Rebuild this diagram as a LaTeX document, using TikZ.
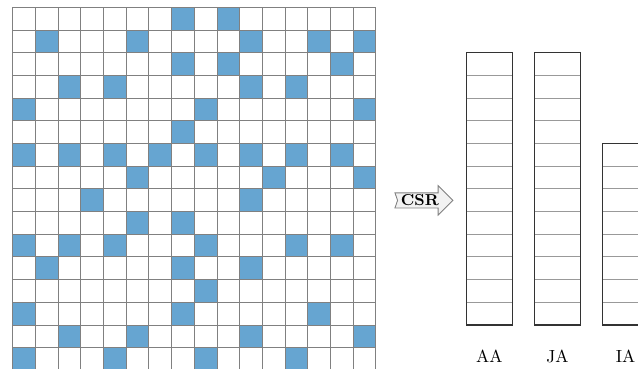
\documentclass[tikz,border=0pt]{standalone}
\usepackage{xcolor}
\usetikzlibrary{positioning, backgrounds}
\definecolor{cellblue}{RGB}{102,165,209}
\tikzstyle{cell} = [fill=cellblue]
\tikzstyle{gridline} = [draw=gray, line width=0.5pt]
\tikzstyle{storage} = [draw=black!80, line width=0.6pt, rectangle, outer sep=0pt, inner sep=0pt, minimum width=0.908cm, anchor=north west]
\tikzstyle{slot} = [draw=gray!80, line width=0.5pt]
\tikzstyle{arrlabel} = [font=\normalsize, inner sep=2pt]
\tikzstyle{csrtext} = [font=\small\bfseries, inner xsep=0pt, inner ysep=1.1pt, outer sep=0pt]
\tikzstyle{csrshape} = [draw=gray, fill=gray!10, line width=0.5pt, line join=miter]

\begin{document}
\begin{tikzpicture}[x=0.454cm, y=0.454cm]
    \clip (-0.56,0.32) rectangle (27.55,-15.93);

    % nonzero entries of the sparse matrix, row by row
    \foreach \r/\cols in {0/{7,9}, 1/{1,5,10,13,15}, 2/{7,9,14}, 3/{2,4,10,12},
                          4/{0,8,15}, 5/{7}, 6/{0,2,4,6,8,10,12,14}, 7/{5,11,15},
                          8/{3,10}, 9/{5,7}, 10/{0,2,4,8,12,14}, 11/{1,7,10},
                          12/{8}, 13/{0,7,13}, 14/{2,5,10,15}, 15/{0,4,8,12}}
        \foreach \c in \cols
            \fill[cell] (\c,-\r) rectangle ++(1,-1);
    \draw[gridline, step=0.454cm] (0,0) grid (16,-16);

    % conversion arrow
    \node (csr) [csrtext] at (17.94,-8.51) {CSR};
    \begin{pgfonlayer}{background}
        \draw[csrshape] ([xshift=-3.4pt]csr.north west) -- ([xshift=-0.4pt]csr.north east)
            -- ([xshift=-0.4pt, yshift=4.1pt]csr.north east) -- ([xshift=8pt]csr.east)
            -- ([xshift=-0.4pt, yshift=-4.1pt]csr.south east) -- ([xshift=-0.4pt]csr.south east)
            -- ([xshift=-3.4pt]csr.south west) -- ([xshift=-1.9pt]csr.west) -- cycle;
    \end{pgfonlayer}

    % storage arrays
    \node (AA) [storage, minimum height=5.448cm] at (20,-2) {};
    \node (JA) [storage, minimum height=5.448cm, right=0.454cm of AA.north east, anchor=north west] {};
    \node (IA) [storage, minimum height=3.632cm, anchor=south west] at (26,-14) {};
    \foreach \i in {1,...,11} {
        \draw[slot] (AA.north west) ++(0,-\i) -- ++(2,0);
        \draw[slot] (JA.north west) ++(0,-\i) -- ++(2,0);
    }
    \foreach \i in {1,...,7}
        \draw[slot] (IA.north west) ++(0,-\i) -- ++(2,0);

    \node (AAname) [arrlabel, below=0.43cm of AA] {AA};
    \node (JAname) [arrlabel, below=0.43cm of JA] {JA};
    \node (IAname) [arrlabel, below=0.43cm of IA] {IA};
\end{tikzpicture}
\end{document}
